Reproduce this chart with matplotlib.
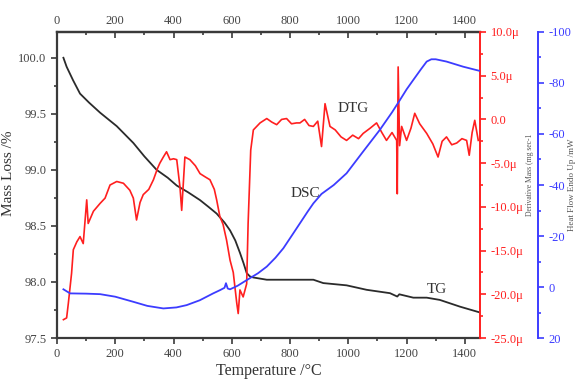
import matplotlib as mpl
import matplotlib.pyplot as plt
from matplotlib.ticker import MultipleLocator, FuncFormatter

mpl.rcParams.update({
    "font.family": ["Liberation Serif", "DejaVu Serif"],
    "axes.unicode_minus": False,
    "font.size": 9,
})

# TG (mass loss, %)
tg_T = [22, 33, 55, 79, 110, 148, 205, 262, 300, 342, 380, 411, 450, 491, 520,
        548, 575, 594, 612, 628, 640, 651, 662, 674, 720, 765, 834, 880, 914,
        994, 1063, 1143, 1168, 1175, 1223, 1269, 1314, 1383, 1449]
tg_m = [100.0, 99.92, 99.8, 99.68, 99.6, 99.51, 99.39, 99.24, 99.12, 99.0,
        98.93, 98.86, 98.8, 98.73, 98.67, 98.61, 98.53, 98.46, 98.37, 98.26,
        98.17, 98.08, 98.05, 98.04, 98.02, 98.02, 98.02, 98.02, 97.99, 97.97,
        97.93, 97.90, 97.87, 97.89, 97.86, 97.86, 97.84, 97.78, 97.73]

# DTG (derivative mass, micro mg/s)
dtg_T = [22, 33, 39, 50, 56, 68, 79, 90, 102, 107, 125, 148, 165, 182, 205, 228,
         250, 262, 273, 285, 296, 315, 331, 345, 353, 365, 376, 388, 400, 411,
         422, 428, 439, 456, 475, 491, 510, 525, 540, 548, 559, 570, 582, 594,
         605, 617, 622, 628, 639, 651, 656, 665, 674, 697, 720, 737, 754, 771,
         788, 805, 822, 834, 850, 865, 880, 895, 908, 920, 937, 955, 975, 994,
         1015, 1035, 1051, 1075, 1097, 1115, 1131, 1150, 1166, 1168, 1171, 1176,
         1183, 1200, 1215, 1228, 1245, 1269, 1290, 1308, 1322, 1337, 1355, 1372,
         1390, 1406, 1415, 1425, 1434, 1446]
dtg_v = [-22.9, -22.7, -21.0, -17.6, -14.9, -14.0, -13.4, -14.2, -9.2, -11.9,
         -10.5, -9.6, -9.0, -7.5, -7.1, -7.3, -8.1, -9.0, -11.5, -9.5, -8.6, -8.0,
         -6.9, -5.6, -5.0, -4.3, -3.7, -4.6, -4.5, -4.6, -7.7, -10.4, -4.3, -4.6,
         -5.3, -6.2, -6.6, -6.9, -8.0, -9.2, -11.1, -12.0, -13.8, -16.1, -17.5,
         -21.0, -22.2, -19.5, -20.3, -18.8, -11.9, -3.5, -1.2, -0.4, 0.1, -0.3,
         -0.6, 0.0, 0.1, -0.5, -0.4, -0.4, 0.0, -0.7, -0.8, -0.2, -3.1, 1.8, -0.8,
         -1.2, -2.0, -2.4, -1.8, -2.2, -1.6, -1.0, -0.4, -1.5, -2.4, -1.5, -2.4,
         -8.5, 6.0, -3.0, -0.8, -2.4, -1.0, 0.7, -0.5, -1.6, -2.8, -4.3, -2.5,
         -2.0, -2.9, -2.7, -2.2, -2.4, -4.1, -1.5, -0.1, -2.4]

# DSC (heat flow, mW, endo up)
dsc_T = [22, 45, 100, 148, 200, 262, 310, 365, 410, 445, 490, 536, 560, 575,
         580, 586, 594, 620, 651, 690, 720, 750, 777, 805, 834, 860, 880, 908,
         950, 994, 1050, 1108, 1150, 1177, 1200, 1223, 1250, 1269, 1285, 1300,
         1337, 1394, 1449]
dsc_v = [0.9, 2.5, 2.6, 2.8, 3.8, 5.8, 7.4, 8.4, 8.0, 7.1, 5.2, 2.5, 1.2, 0.3,
         -1.5, 0.6, 0.9, -0.5, -2.7, -5.4, -8.0, -11.5, -15.2, -20.0, -25.0,
         -29.5, -32.8, -36.5, -40.0, -44.6, -53.0, -61.6, -68.5, -73.3, -77.5,
         -81.2, -85.5, -88.4, -89.3, -89.3, -88.4, -86.4, -84.8]

AX_C = "#3a3a3a"
RED = "#ff1f1f"
BLUE = "#3c3cff"

fig = plt.figure(figsize=(5.77, 3.91), dpi=100, facecolor="white")
ax = fig.add_axes([0.0988, 0.1355, 0.7331, 0.7827])

# TG
ax.plot(tg_T, tg_m, color="#2b2b2b", lw=1.3, zorder=3)
ax.set_xlim(0, 1452)
ax.set_ylim(97.5, 100.23)
ax.xaxis.set_major_locator(MultipleLocator(200))
ax.xaxis.set_minor_locator(MultipleLocator(100))
ax.yaxis.set_major_locator(MultipleLocator(0.5))
ax.yaxis.set_minor_locator(MultipleLocator(0.25))
ax.yaxis.set_major_formatter(FuncFormatter(lambda v, p: "{:.1f}".format(v)))
ax.tick_params(axis="both", which="both", direction="out", colors=AX_C,
               labelcolor="#444444", width=1.2)
ax.tick_params(which="major", length=4)
ax.tick_params(which="minor", length=2.5)
for s in ["left", "bottom", "top"]:
    ax.spines[s].set_color(AX_C)
    ax.spines[s].set_linewidth(1.6)
ax.spines["right"].set_visible(False)
ax.set_xlabel("Temperature /°C", fontsize=11.5, color="#333333", labelpad=2)
ax.set_ylabel("Mass Loss /%", fontsize=11, color="#333333")
ax.yaxis.set_label_coords(-0.1, 0.54)

top = ax.secondary_xaxis("top")
top.xaxis.set_major_locator(MultipleLocator(200))
top.xaxis.set_minor_locator(MultipleLocator(100))
top.tick_params(which="both", direction="in", colors=AX_C, labelcolor="#444444",
                width=1.2)
top.tick_params(which="major", length=4)
top.tick_params(which="minor", length=2.5)
top.spines["top"].set_linewidth(1.6)
top.spines["top"].set_color(AX_C)

# DTG
ax2 = ax.twinx()
ax2.plot(dtg_T, dtg_v, color=RED, lw=1.2, zorder=2)
ax2.set_ylim(-25, 10)
ax2.yaxis.set_major_locator(MultipleLocator(5))
ax2.yaxis.set_minor_locator(MultipleLocator(2.5))
ax2.yaxis.set_major_formatter(FuncFormatter(
    lambda v, p: "0.0" if abs(v) < 1e-9 else "{:.1f}μ".format(v)))
ax2.tick_params(axis="y", which="both", direction="out", colors=RED,
                labelcolor=RED, width=1.2)
ax2.tick_params(axis="y", which="major", length=4)
ax2.tick_params(axis="y", which="minor", length=2.5)
for s in ["left", "top", "bottom"]:
    ax2.spines[s].set_visible(False)
ax2.spines["right"].set_color(RED)
ax2.spines["right"].set_linewidth(1.4)

# DSC
ax3 = ax.twinx()
ax3.plot(dsc_T, dsc_v, color=BLUE, lw=1.3, zorder=2)
ax3.set_ylim(20, -100)
ax3.yaxis.set_major_locator(MultipleLocator(20))
ax3.yaxis.set_minor_locator(MultipleLocator(10))
ax3.spines["right"].set_position(("axes", 1.137))
ax3.tick_params(axis="y", which="both", direction="out", colors=BLUE,
                labelcolor=BLUE, width=1.2)
ax3.tick_params(axis="y", which="major", length=4)
ax3.tick_params(axis="y", which="minor", length=2.5)
for s in ["left", "top", "bottom"]:
    ax3.spines[s].set_visible(False)
ax3.spines["right"].set_color(BLUE)
ax3.spines["right"].set_linewidth(1.4)

# curve labels
ax.text(1016, 99.55, "DTG", fontsize=11, color="#333333", ha="center", va="center")
ax.text(854, 98.79, "DSC", fontsize=11, color="#333333", ha="center", va="center")
ax.text(1304, 97.93, "TG", fontsize=11, color="#333333", ha="center", va="center")

fig.text(0.918, 0.552, "Derivative Mass (mg sec-1", rotation=90, fontsize=5.5,
         color="#555555", ha="center", va="center")
fig.text(0.991, 0.527, "Heat Flow Endo Up /mW", rotation=90, fontsize=6.5,
         color="#555555", ha="center", va="center")

fig.savefig("out.png", dpi=100, facecolor="white")
